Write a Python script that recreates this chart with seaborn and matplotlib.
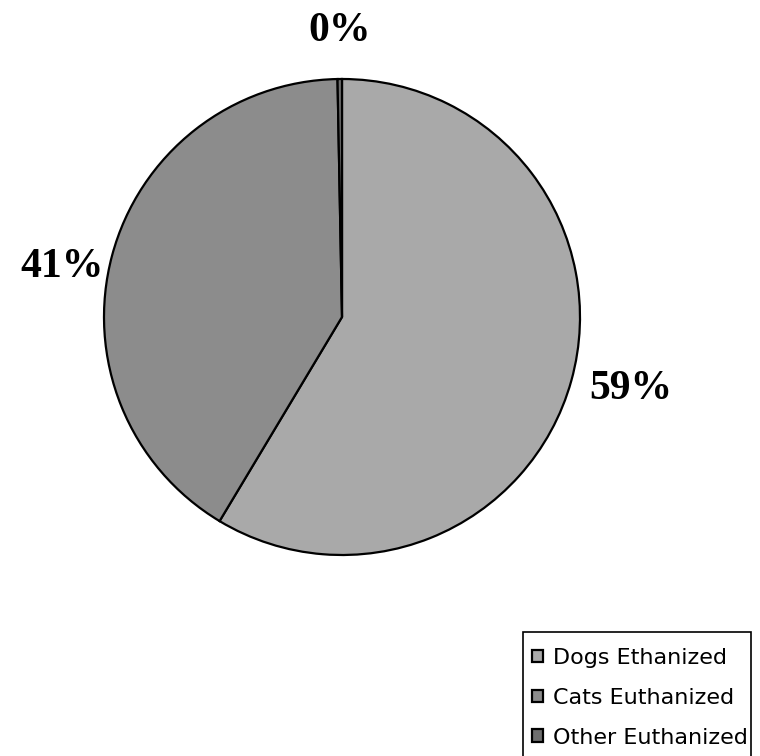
import matplotlib
matplotlib.use("Agg")
import matplotlib.pyplot as plt
from matplotlib.patches import Rectangle
import seaborn as sns

# Share of animals euthanized, by kind
categories = ["Dogs Ethanized", "Cats Euthanized", "Other Euthanized"]
shares = [58.6, 41.1, 0.3]
colors = ["#a9a9a9", "#8c8c8c", "#6e6e6e"]

sns.set_theme(style="white")
plt.rcParams["font.family"] = ["DejaVu Sans"]

W, H = 760, 756
fig = plt.figure(figsize=(W / 100, H / 100), dpi=100)
ax = fig.add_axes([0, 0, 1, 1])

wedges, texts, autotexts = ax.pie(
    shares,
    colors=colors,
    center=(342, H - 317),
    radius=238,
    startangle=90,
    counterclock=False,
    autopct="%1.0f%%",
    pctdistance=1.2,
    wedgeprops=dict(edgecolor="black", linewidth=1.6),
    frame=True,
)
ax.set_xlim(0, W)
ax.set_ylim(0, H)
ax.set_aspect("equal")
ax.axis("off")

# nudge the percentage labels a little off their mid-angle spots
nudges = [(14, 4), (-4, -24), (0, 0)]
for t, (dx, dy) in zip(autotexts, nudges):
    x, y = t.get_position()
    t.set_position((x + dx, y + dy))
    t.set_fontfamily("Liberation Serif")
    t.set_fontweight("bold")
    t.set_fontsize(30)
    t.set_color("black")

leg = ax.legend(
    wedges,
    categories,
    loc="upper left",
    bbox_to_anchor=(532 / W, 1 - 648 / H),
    bbox_transform=fig.transFigure,
    frameon=False,
    fontsize=16,
    handlelength=0.5,
    handleheight=0.5,
    handletextpad=0.45,
    labelspacing=0.89,
    borderpad=0,
    borderaxespad=0,
)
for txt in leg.get_texts():
    txt.set_color("black")

# legend box, running off the bottom of the figure
fig.add_artist(Rectangle((523 / W, -0.02), (751 - 523) / W, (H - 632) / H + 0.02,
                         transform=fig.transFigure, fill=False,
                         edgecolor="black", linewidth=1.2))

fig.savefig("out.png", dpi=100)
